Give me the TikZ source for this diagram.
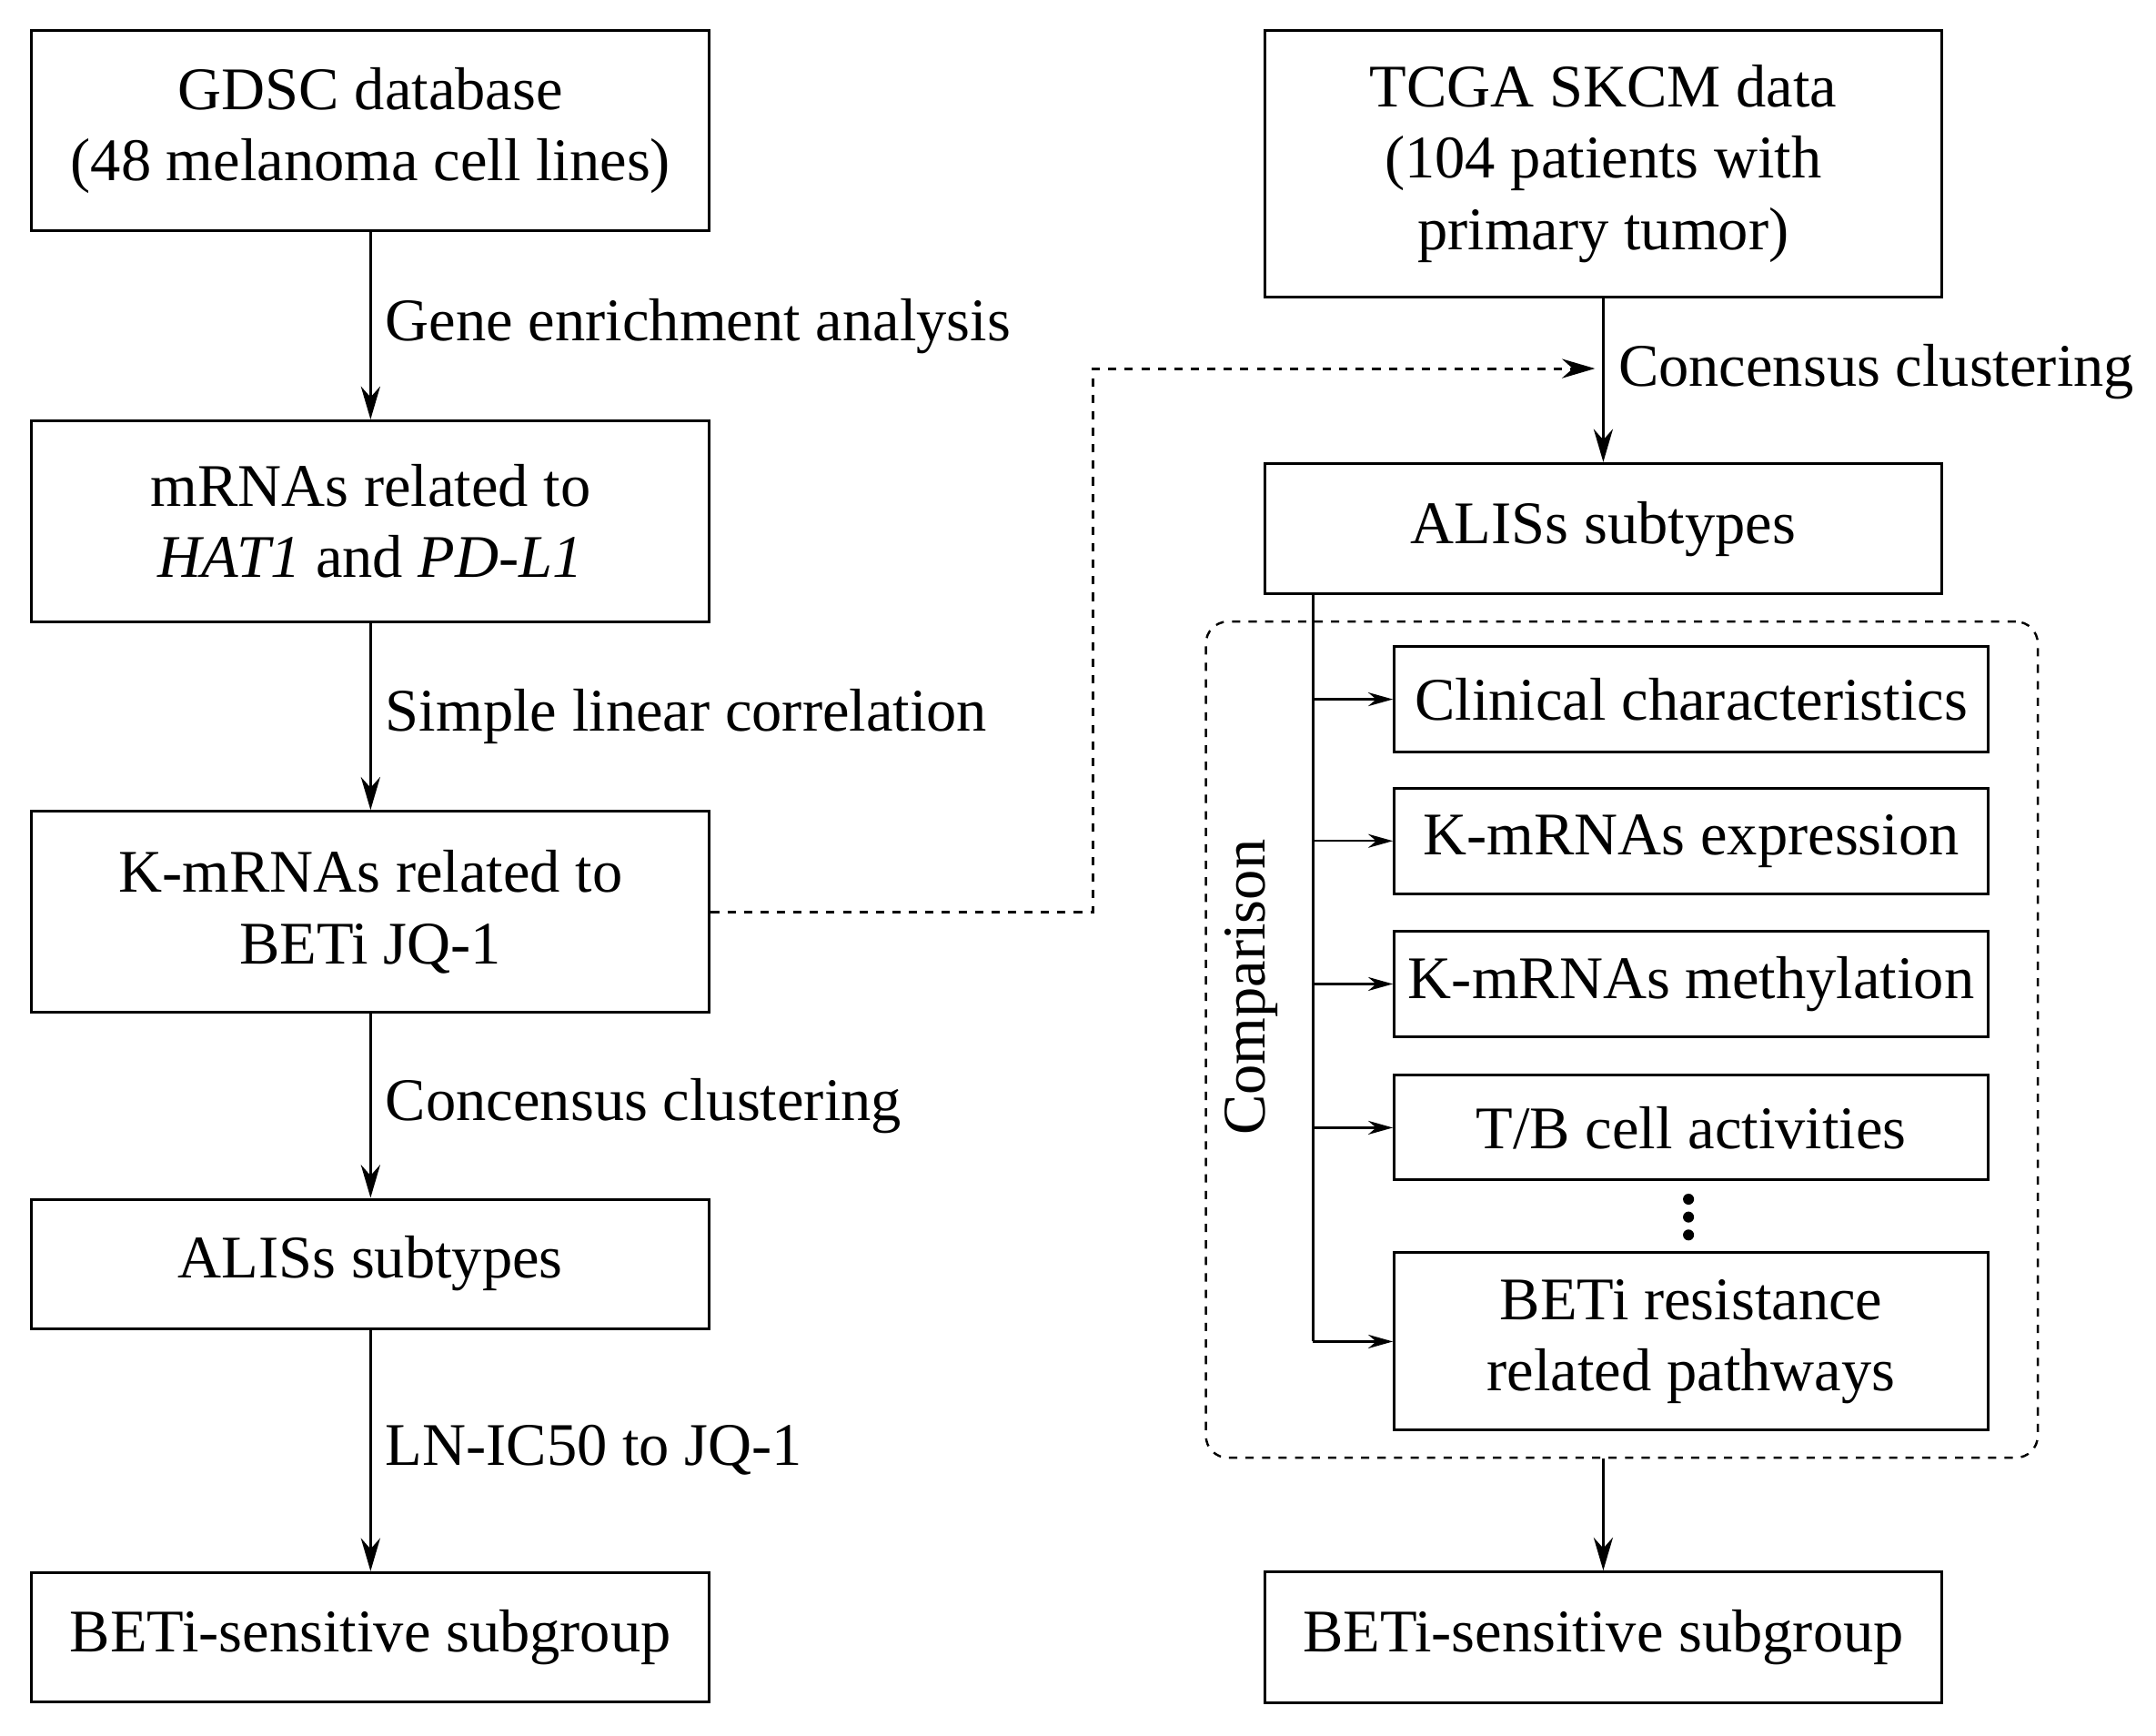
\documentclass[tikz,border=0pt]{standalone}
\usepackage{fontspec}
\setmainfont{Liberation Serif}
\usetikzlibrary{arrows.meta}
\begin{document}
\begin{tikzpicture}[x=0.5pt,y=-0.5pt,
 box/.style={draw,line width=1pt,align=center,font=\fontsize{22}{26}\selectfont,inner sep=0pt},
 sbox/.style={draw,line width=1pt,align=center,font=\fontsize{22}{26}\selectfont,inner sep=0pt},
 lab/.style={anchor=west,font=\fontsize{22}{26}\selectfont,inner sep=0pt},
 arr/.style={line width=1pt,-{Stealth[length=12pt,width=7pt]}},
 sarr/.style={line width=0.8pt,-{Stealth[length=9pt,width=5pt]}}]
\useasboundingbox (0,0) rectangle (1568,1262);
% left column
\node[box,minimum width=246.5pt,minimum height=73pt] (g) at (269.5,95) {GDSC database\\(48 melanoma cell lines)};
\node[box,minimum width=246.5pt,minimum height=73pt] (m) at (269.5,379) {mRNAs related to\\\textit{HAT1} and \textit{PD-L1}};
\node[box,minimum width=246.5pt,minimum height=73pt] (k) at (269.5,663) {K-mRNAs related to\\BETi JQ-1};
\node[box,minimum width=246.5pt,minimum height=47pt] (a) at (269.5,919) {ALISs subtypes};
\node[box,minimum width=246.5pt,minimum height=47pt] (b) at (269.5,1190.5) {BETi-sensitive subgroup};
\draw[arr] (g) -- (m) node[lab,midway,xshift=5pt] {Gene enrichment analysis};
\draw[arr] (m) -- (k) node[lab,midway,xshift=5pt] {Simple linear correlation};
\draw[arr] (k) -- (a) node[lab,midway,xshift=5pt] {Concensus clustering};
\draw[arr] (a) -- (b) node[lab,midway,xshift=5pt] {LN-IC50 to JQ-1};
% right column
\node[box,minimum width=246pt,minimum height=97pt] (t) at (1166,119) {TCGA SKCM data\\(104 patients with\\primary tumor)};
\node[box,minimum width=246pt,minimum height=47.5pt] (ar) at (1166,384.5) {ALISs subtypes};
\node[box,minimum width=246pt,minimum height=47.5pt] (br) at (1166,1190.5) {BETi-sensitive subgroup};
\coordinate (mid) at (1166,268);
\draw[arr] (t) -- (ar) node[lab,pos=0.45,xshift=5pt] {Concensus clustering};
\draw[line width=1pt,dashed,-{Stealth[length=12pt,width=7pt]}] (k.east) -- (795,663) -- (795,268) -- ([xshift=-3pt]mid);
\node[draw,dashed,rounded corners=8pt,line width=0.8pt,minimum width=302.5pt,minimum height=304pt,inner sep=0pt] (dr) at (1179.5,756) {};
\draw[arr] (dr.south -| br) -- (br);
\node[sbox,minimum width=216pt,minimum height=38.5pt] (c1) at (1230,508.5) {Clinical characteristics};
\node[sbox,minimum width=216pt,minimum height=38.5pt] (c2) at (1230,611.5) {K-mRNAs expression};
\node[sbox,minimum width=216pt,minimum height=38.5pt] (c3) at (1230,715.5) {K-mRNAs methylation};
\node[sbox,minimum width=216pt,minimum height=38pt] (c4) at (1230,820) {T/B cell activities};
\node[sbox,minimum width=216pt,minimum height=64.5pt] (c5) at (1230,975.5) {BETi resistance\\related pathways};
\foreach \yy in {872,885,898} \fill (1228,\yy) circle (2pt);
\coordinate (top) at (955,432);
\draw[line width=1pt] (top) -- (955,975);
\foreach \n in {c1,c2,c3,c4,c5} \draw[sarr] (955,0 |- \n.west) -- (\n.west);
\node[font=\fontsize{22}{26}\selectfont,rotate=90] (cmp) at (910,718) {Comparison};
\end{tikzpicture}
\end{document}
